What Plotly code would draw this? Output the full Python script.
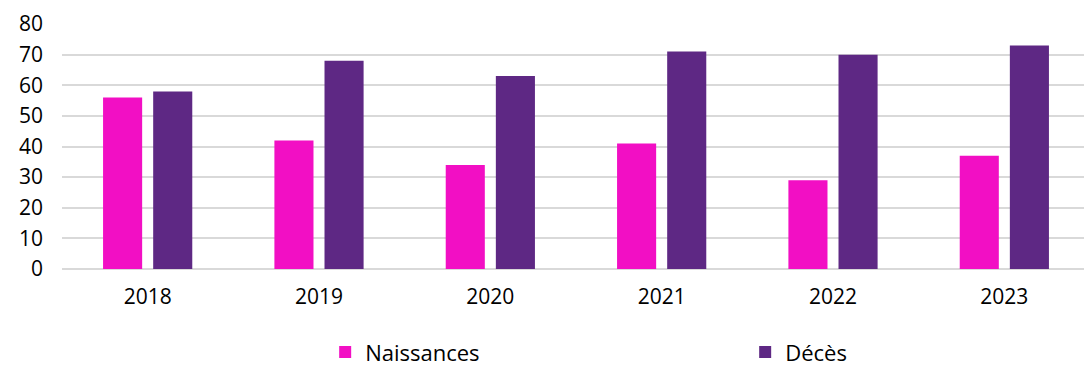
import plotly.graph_objects as go

years = ["2018", "2019", "2020", "2021", "2022", "2023"]
naissances = [56, 42, 34, 41, 29, 37]
deces = [58, 68, 63, 71, 70, 73]

font_family = "Open Sans, Lato, sans-serif"

fig = go.Figure()
fig.add_trace(go.Bar(x=years, y=naissances, name="Naissances", marker_color="#F20FC4",
                     marker_line_width=0))
fig.add_trace(go.Bar(x=years, y=deces, name="Décès", marker_color="#5E2884",
                     marker_line_width=0))

fig.update_layout(
    width=1084, height=359,
    margin=dict(l=54, r=2, t=16, b=98, autoexpand=False),
    paper_bgcolor="white", plot_bgcolor="white",
    barmode="group", bargap=0.415, bargroupgap=0.22,
    font=dict(family=font_family, size=21, color="#000000"),
    showlegend=True,
    legend=dict(orientation="h", x=0.256, xanchor="left", y=-0.34, yanchor="middle",
                entrywidth=375, entrywidthmode="pixels",
                font=dict(size=22), itemwidth=30, traceorder="normal"),
    xaxis=dict(showgrid=False, showline=False, ticks="", tickfont=dict(size=21),
               ticklabelstandoff=13, automargin=False),
    yaxis=dict(range=[0, 80], dtick=10, showgrid=True, gridcolor="#D9D9D9", gridwidth=1.5,
               zeroline=True, zerolinecolor="#D9D9D9", zerolinewidth=1.5,
               showline=False, ticks="", tickfont=dict(size=21), ticklabelstandoff=18,
               automargin=False),
)

fig.write_html("out.html")
